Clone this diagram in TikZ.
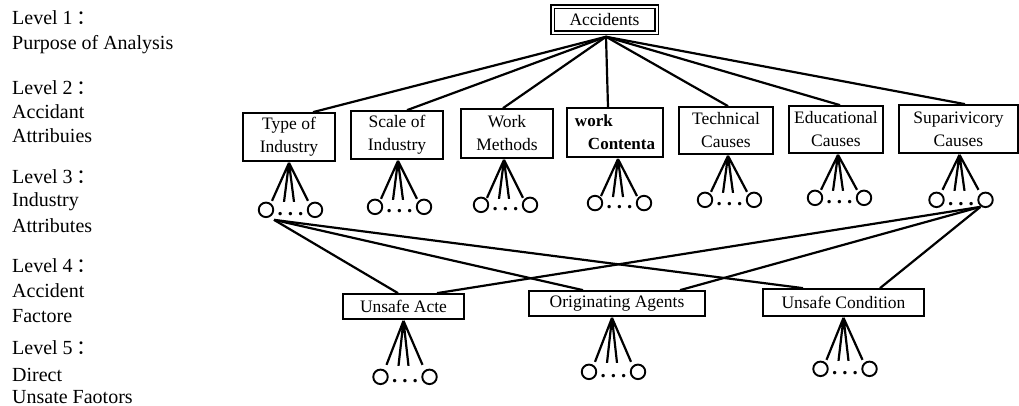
\documentclass[tikz,border=0pt]{standalone}
\usepackage{fontspec}
\setmainfont{Liberation Serif}
\newfontfamily\cjk{Noto Sans CJK SC}
\usetikzlibrary{calc}
% #1 box name, #2 apex x-shift, #3 line depth, #4 circle depth
\newcommand\fanout[4]{%
  \coordinate (#1top) at ($(#1.south)+(#2,1)$);
  \node[leaf] (#1l) at ($(#1top)+(-23,#4)$) {};
  \node[leaf] (#1r) at ($(#1top)+(26,#4)$) {};
  \node[ell] (#1d) at ($(#1top)+(1.5,#4+4)$) {.\hspace{5pt}.\hspace{5pt}.};
  \coordinate (#1a) at ($(#1top)+(-17,#3)$);
  \coordinate (#1b) at ($(#1top)+(-5,#3+1)$);
  \coordinate (#1c) at ($(#1top)+(5,#3+1)$);
  \coordinate (#1e) at ($(#1top)+(19,#3)$);
  \draw[conn] (#1top) -- (#1a) (#1top) -- (#1b) (#1top) -- (#1c) (#1top) -- (#1e);
}
\begin{document}
\begin{tikzpicture}[x=1pt,y=-1pt,
  box/.style={draw,line width=1.7pt,inner sep=0pt,align=center,
    font=\fontsize{17.5}{23}\selectfont},
  conn/.style={line width=2.2pt},
  leaf/.style={circle,draw,line width=1.9pt,minimum size=14.5pt,inner sep=0pt},
  ell/.style={inner sep=0pt,font=\fontsize{21}{21}\bfseries\selectfont},
  lab/.style={anchor=base west,inner sep=0pt,font=\fontsize{20}{22}\selectfont}]
\useasboundingbox (0,0) rectangle (1019,406);

% left column labels
\node[lab] (l1)  at (12,25)  {Level 1\,{\cjk ：}};
\node[lab] (l1a) at (12,50)  {Purpose of Analysis};
\node[lab] (l2)  at (12,95)  {Level 2\,{\cjk ：}};
\node[lab] (l2a) at (12,119) {Accidant};
\node[lab] (l2b) at (12,143) {Attribuies};
\node[lab] (l3)  at (12,183) {Level 3\,{\cjk ：}};
\node[lab] (l3a) at (12,207) {Industry};
\node[lab] (l3b) at (12,232) {Attributes};
\node[lab] (l4)  at (12,272) {Level 4\,{\cjk ：}};
\node[lab] (l4a) at (12,297) {Accident};
\node[lab] (l4b) at (12,322) {Factore};
\node[lab] (l5)  at (12,354) {Level 5\,{\cjk ：}};
\node[lab] (l5a) at (12,381) {Direct};
\node[lab] (l5b) at (12,403) {Unsate Faotors};

% level 1
\node[box,line width=1.5pt,double,double distance=2pt,minimum width=104pt,minimum height=26pt] (acc) at (604.5,20) {Accidents};
\coordinate (apex) at ($(acc.south)+(1.5,3)$);

% level 2
\node[box,minimum width=92pt,minimum height=48pt] (type) at (289,137) {Type of\\Industry};
\node[box,minimum width=92pt,minimum height=48pt] (scale) at (397,135) {Scale of\\Industry};
\node[box,minimum width=92pt,minimum height=49pt] (work) at (507,133.5) {Work\\Methods};
\node[box,line width=2.1pt,align=left,minimum width=96pt,minimum height=49pt,font=\fontsize{17}{23}\bfseries\selectfont] (cont) at (615,132.5) {work\\\hspace*{13pt}Contenta};
\node[box,minimum width=94pt,minimum height=47pt] (tech) at (726,130.5) {Technical\\Causes};
\node[box,minimum width=94pt,minimum height=47pt] (edu) at (836,129.5) {Educational\\Causes};
\node[box,minimum width=119pt,minimum height=48pt] (sup) at (958.5,129) {Suparivicory\\Causes};

\draw[conn] (apex) -- ($(type.north)+(24,0)$);
\draw[conn] (apex) -- ($(scale.north)+(10,0)$);
\draw[conn] (apex) -- ($(work.north)+(-4,0)$);
\draw[conn] (apex) -- ($(cont.north)+(-7,0)$);
\draw[conn] (apex) -- ($(tech.north)+(2,0)$);
\draw[conn] (apex) -- ($(edu.north)+(4,0)$);
\draw[conn] (apex) -- ($(sup.north)+(6.5,0)$);

% level 3 fans
\fanout{type}{0}{38}{47}
\fanout{scale}{1}{38}{46}
\fanout{work}{-3}{38}{45}
\fanout{cont}{3}{37}{44}
\fanout{tech}{2}{36}{44}
\fanout{edu}{2}{35}{43}
\fanout{sup}{1}{35}{45}

% level 4
\node[box,minimum width=121pt,minimum height=25pt] (ua) at (403.5,306.5) {Unsafe Acte};
\node[box,minimum width=176pt,minimum height=25pt] (oa) at (617,303.5) {Originating Agents};
\node[box,minimum width=161pt,minimum height=27pt] (uc) at (843.5,302.5) {Unsafe Condition};

\coordinate (tx) at ($(typel)+(8,10)$);
\coordinate (sx) at ($(supr)+(-5,7)$);
\draw[conn] (tx) -- ($(ua.north)+(-5.5,0)$);
\draw[conn] (tx) -- ($(oa.north)+(-34,0)$);
\draw[conn] (tx) -- ($(uc.north)+(-40.5,0)$);
\draw[conn] (sx) -- ($(ua.north)+(33.5,0)$);
\draw[conn] (sx) -- ($(oa.north)+(63,0)$);
\draw[conn] (sx) -- ($(uc.north)+(36.5,0)$);

% level 5 fans
\fanout{ua}{0}{44}{56}
\fanout{oa}{-5}{44}{54}
\fanout{uc}{0}{42}{51}
\end{tikzpicture}
\end{document}
